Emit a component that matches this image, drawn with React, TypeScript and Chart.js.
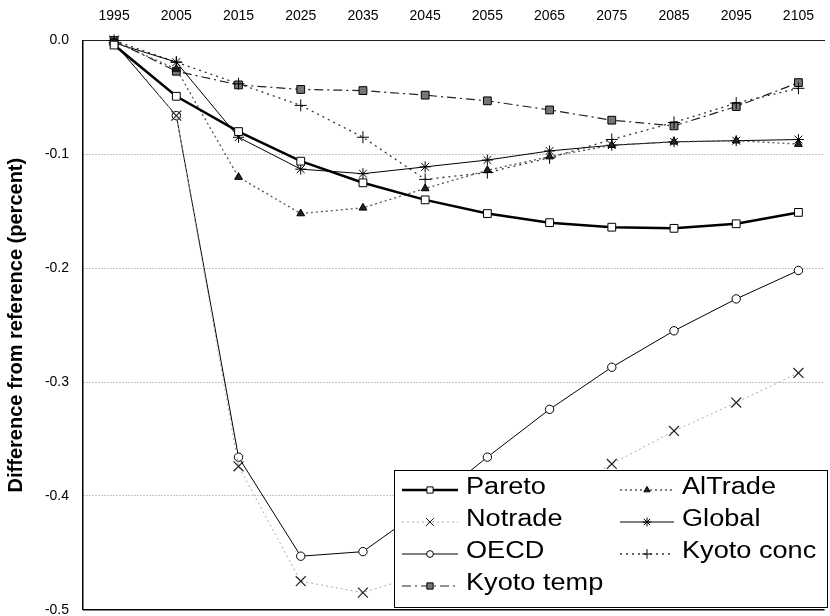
import React, { useEffect, useRef } from 'react';
import { Chart, registerables } from 'chart.js';
import { drawPoint } from 'chart.js/helpers';

Chart.register(...registerables);

const years = [1995, 2005, 2015, 2025, 2035, 2045, 2055, 2065, 2075, 2085, 2095, 2105];
const yTickValues = [0, -0.1, -0.2, -0.3, -0.4, -0.5];

const pareto = [-0.004, -0.049, -0.080, -0.106, -0.125, -0.140, -0.152, -0.160, -0.164, -0.165, -0.161, -0.151];
const alTrade = [-0.001, -0.025, -0.120, -0.152, -0.147, -0.130, -0.114, -0.102, -0.092, -0.089, -0.088, -0.091];
const notrade = [0, -0.066, -0.374, -0.475, -0.485, -0.468, -0.438, -0.404, -0.372, -0.343, -0.318, -0.292];
const globalS = [-0.002, -0.019, -0.085, -0.113, -0.117, -0.111, -0.105, -0.097, -0.092, -0.089, -0.088, -0.087];
const oecd = [-0.002, -0.066, -0.366, -0.453, -0.449, -0.410, -0.366, -0.324, -0.287, -0.255, -0.227, -0.202];
const kyotoConc = [0, -0.019, -0.038, -0.057, -0.085, -0.122, -0.116, -0.103, -0.087, -0.072, -0.055, -0.042];
const kyotoTemp = [0, -0.027, -0.039, -0.043, -0.044, -0.048, -0.053, -0.061, -0.070, -0.075, -0.058, -0.037];

const seriesNames = ['Pareto', 'AlTrade', 'Notrade', 'Global', 'OECD', 'Kyoto conc', 'Kyoto temp'];

const toPts = (vals: number[]) => vals.map((v, i) => ({ x: years[i], y: v }));

const bottomLinePlugin = {
  id: 'bottomLine',
  afterDatasetsDraw(chart: any) {
    const { ctx, chartArea } = chart;
    ctx.save();
    ctx.strokeStyle = '#000';
    ctx.lineWidth = 1.5;
    ctx.beginPath();
    ctx.moveTo(chartArea.left, chartArea.bottom);
    ctx.lineTo(chartArea.right, chartArea.bottom);
    ctx.stroke();
    ctx.restore();
  },
};

const legendPlugin = {
  id: 'boxLegend',
  afterDraw(chart: any) {
    const ctx = chart.ctx as CanvasRenderingContext2D;
    const bx = 394, by = 470, bw = 433, bh = 137;
    ctx.save();
    ctx.fillStyle = '#ffffff';
    ctx.fillRect(bx, by, bw, bh);
    ctx.strokeStyle = '#000000';
    ctx.lineWidth = 1;
    ctx.strokeRect(bx + 0.5, by + 0.5, bw, bh);
    const cols = [
      { x0: 402, x1: 458, tx: 466 },
      { x0: 620, x1: 674, tx: 682 },
    ];
    const rowBase = 494;
    const rowStep = 32;
    chart.data.datasets.forEach((ds: any, i: number) => {
      const col = cols[i % 2];
      const row = Math.floor(i / 2);
      const baseline = rowBase + row * rowStep;
      const ly = baseline - 4;
      ctx.save();
      ctx.strokeStyle = ds.borderColor;
      ctx.lineWidth = ds.borderWidth;
      ctx.setLineDash(ds.borderDash || []);
      ctx.beginPath();
      ctx.moveTo(col.x0, ly);
      ctx.lineTo(col.x1, ly);
      ctx.stroke();
      ctx.setLineDash([]);
      ctx.fillStyle = ds.pointBackgroundColor;
      ctx.strokeStyle = ds.pointBorderColor;
      ctx.lineWidth = 1;
      drawPoint(ctx, { pointStyle: ds.pointStyle, rotation: 0, radius: ds.pointRadius * 0.8, borderWidth: 1 } as any, (col.x0 + col.x1) / 2, ly);
      ctx.restore();
      ctx.save();
      ctx.fillStyle = '#000000';
      ctx.font = '23px Arial, "Liberation Sans", sans-serif';
      ctx.textBaseline = 'alphabetic';
      ctx.textAlign = 'left';
      ctx.translate(col.tx, baseline);
      ctx.scale(1.18, 1);
      ctx.fillText(ds.label, 0, 0);
      ctx.restore();
    });
    ctx.restore();
  },
};

export default function App() {
  const ref = useRef<HTMLCanvasElement | null>(null);
  useEffect(() => {
    if (!ref.current) return;
    const mk = (label: string, vals: number[], o: any) => ({
      label,
      data: toPts(vals),
      fill: false,
      tension: 0,
      clip: false,
      pointBorderWidth: 1,
      ...o,
    });
    const chart = new Chart(ref.current, {
      type: 'line',
      data: {
        datasets: [
          mk(seriesNames[0], pareto, { borderColor: '#000', borderWidth: 2.5, pointStyle: 'rect', pointRadius: 5.5, pointBackgroundColor: '#fff', pointBorderColor: '#000' }),
          mk(seriesNames[1], alTrade, { borderColor: '#555', borderWidth: 1.3, borderDash: [2, 3], pointStyle: 'triangle', pointRadius: 4.5, pointBackgroundColor: '#222', pointBorderColor: '#000' }),
          mk(seriesNames[2], notrade, { borderColor: '#aaa', borderWidth: 1, borderDash: [2, 3], pointStyle: 'crossRot', pointRadius: 7, pointBorderWidth: 1.2, pointBackgroundColor: '#222', pointBorderColor: '#222' }),
          mk(seriesNames[3], globalS, { borderColor: '#000', borderWidth: 1, pointStyle: 'star', pointRadius: 5.5, pointBackgroundColor: '#000', pointBorderColor: '#000' }),
          mk(seriesNames[4], oecd, { borderColor: '#000', borderWidth: 1, pointStyle: 'circle', pointRadius: 4.2, pointBackgroundColor: '#fff', pointBorderColor: '#000' }),
          mk(seriesNames[5], kyotoConc, { borderColor: '#333', borderWidth: 1.3, borderDash: [2, 4], pointStyle: 'cross', pointRadius: 6, pointBackgroundColor: '#000', pointBorderColor: '#000' }),
          mk(seriesNames[6], kyotoTemp, { borderColor: '#222', borderWidth: 1.2, borderDash: [9, 4, 2, 4], pointStyle: 'rect', pointRadius: 5.5, pointBackgroundColor: '#777', pointBorderColor: '#000' }),
        ],
      },
      options: {
        animation: false,
        responsive: false,
        maintainAspectRatio: false,
        layout: { padding: 0, autoPadding: false },
        plugins: { legend: { display: false }, tooltip: { enabled: false } },
        elements: { point: { hoverRadius: 5 } },
        scales: {
          x: {
            type: 'linear',
            position: 'top',
            min: 1990,
            max: 2109.2,
            afterBuildTicks: (s: any) => { s.ticks = years.map((v) => ({ value: v })); },
            afterFit: (s: any) => { s.height = 40.5; },
            grid: { display: false, drawTicks: false },
            border: { display: true, color: '#222', width: 1 },
            ticks: {
              color: '#000',
              font: { family: 'Arial, "Liberation Sans", sans-serif', size: 14, weight: 'normal' },
              padding: 16,
              maxRotation: 0,
              autoSkip: false,
              callback: (v: any) => String(v),
            },
          },
          y: {
            type: 'linear',
            min: -0.5,
            max: 0,
            afterBuildTicks: (s: any) => { s.ticks = yTickValues.map((v) => ({ value: v })); },
            afterFit: (s: any) => { s.width = 83; },
            grid: {
              drawTicks: true,
              tickLength: 14,
              tickColor: 'rgba(0,0,0,0)',
              color: (c: any) => (c.tick && (c.tick.value === 0 || c.tick.value === -0.5) ? 'rgba(0,0,0,0)' : '#888'),
              lineWidth: 1,
            },
            border: { display: true, color: '#000', width: 1.5, dash: [1, 2] },
            ticks: {
              color: '#000',
              font: { family: 'Arial, "Liberation Sans", sans-serif', size: 14, weight: 'normal', lineHeight: 0.9 },
              padding: 0,
              callback: (v: any) => Number(v).toFixed(1),
            },
            title: {
              display: true,
              text: 'Difference from reference (percent)',
              color: '#000',
              font: { family: 'Arial, "Liberation Sans", sans-serif', size: 20, weight: 'bold' },
              padding: { top: 4, bottom: 0 },
            },
          },
        },
      },
      plugins: [bottomLinePlugin, legendPlugin],
    } as any);
    return () => chart.destroy();
  }, []);
  return (
    <div style={{ position: 'fixed', left: 0, top: 0, width: 830, height: 616, background: '#fff' }}>
      <canvas ref={ref} width={830} height={616} style={{ width: 830, height: 616 }} />
    </div>
  );
}
